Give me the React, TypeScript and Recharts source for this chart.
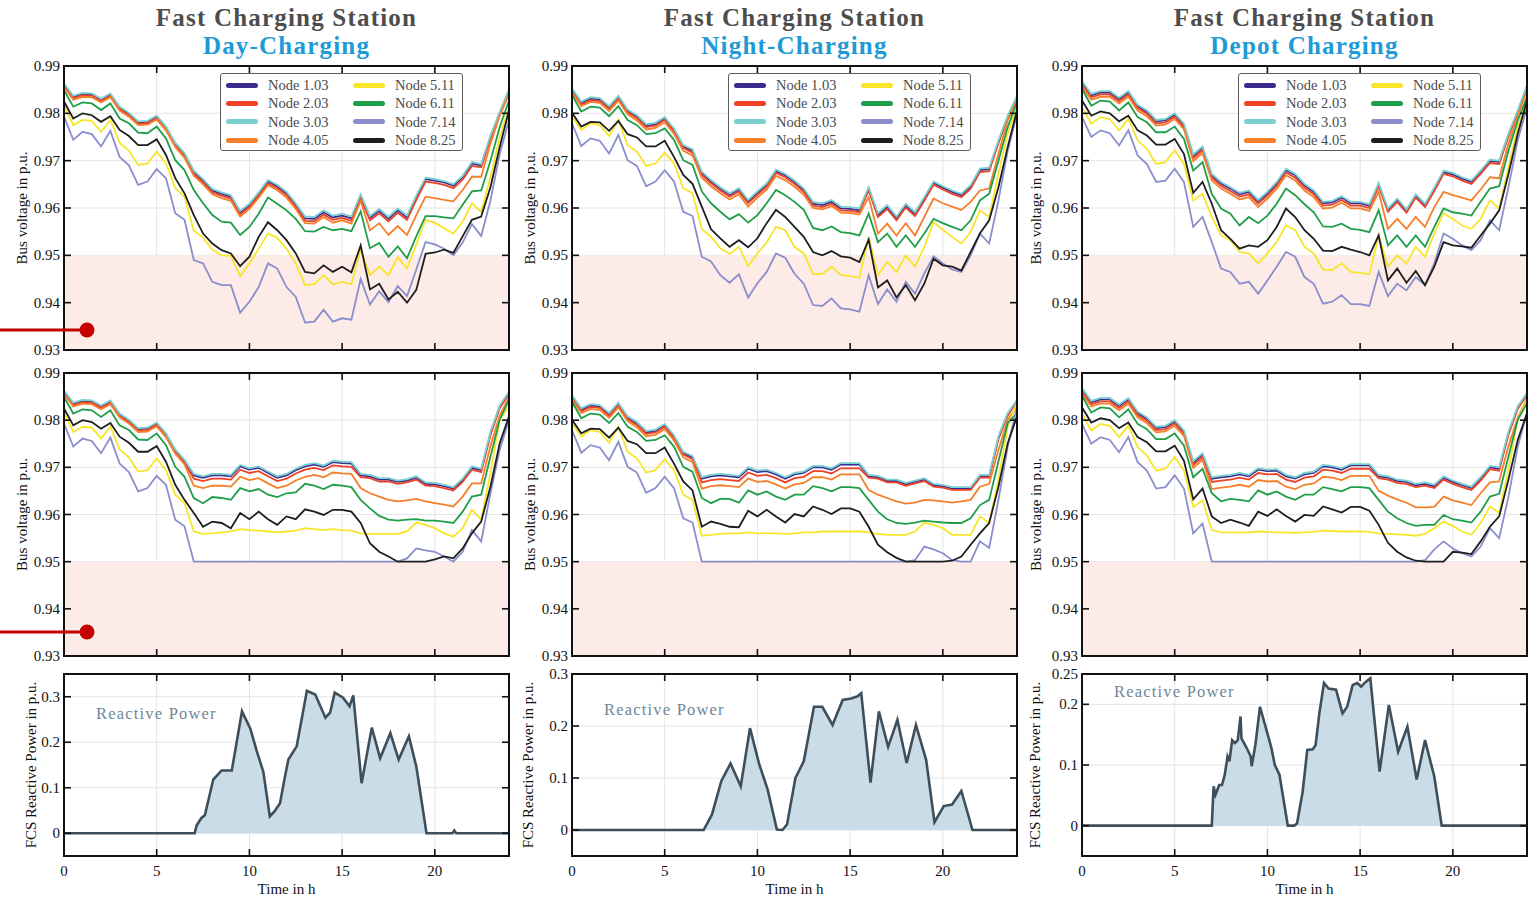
import {
  LineChart, Line, AreaChart, Area, XAxis, YAxis, CartesianGrid, ReferenceArea, Legend,
} from 'recharts';

// time axis, half-hour steps
const HOURS = [
  0, 0.5, 1, 1.5, 2, 2.5, 3, 3.5, 4, 4.5, 5, 5.5,
  6, 6.5, 7, 7.5, 8, 8.5, 9, 9.5, 10, 10.5, 11, 11.5,
  12, 12.5, 13, 13.5, 14, 14.5, 15, 15.5, 16, 16.5, 17, 17.5,
  18, 18.5, 19, 19.5, 20, 20.5, 21, 21.5, 22, 22.5, 23, 23.5, 24,
];

// ---------- Day-Charging, without Q control ----------
const dayTop103 = [
  0.9860, 0.9835, 0.9841, 0.9840, 0.9829, 0.9840, 0.9812, 0.9799, 0.9781, 0.9782, 0.9793, 0.9770,
  0.9736, 0.9714, 0.9676, 0.9658, 0.9637, 0.9630, 0.9624, 0.9591, 0.9606, 0.9630, 0.9656, 0.9646,
  0.9631, 0.9607, 0.9578, 0.9577, 0.9591, 0.9580, 0.9584, 0.9578, 0.9625, 0.9579, 0.9594, 0.9577,
  0.9595, 0.9580, 0.9622, 0.9661, 0.9658, 0.9654, 0.9647, 0.9665, 0.9694, 0.9690, 0.9750, 0.9800, 0.9848,
];
const dayTop203 = [
  0.9857, 0.9832, 0.9838, 0.9837, 0.9826, 0.9837, 0.9809, 0.9796, 0.9778, 0.9779, 0.9790, 0.9767,
  0.9733, 0.9710, 0.9672, 0.9654, 0.9633, 0.9626, 0.9620, 0.9587, 0.9602, 0.9626, 0.9652, 0.9642,
  0.9627, 0.9603, 0.9573, 0.9572, 0.9586, 0.9575, 0.9579, 0.9573, 0.9621, 0.9574, 0.9589, 0.9572,
  0.9590, 0.9575, 0.9617, 0.9656, 0.9653, 0.9649, 0.9642, 0.9660, 0.9689, 0.9686, 0.9746, 0.9797, 0.9845,
];
const dayTop303 = [
  0.9863, 0.9837, 0.9843, 0.9842, 0.9831, 0.9842, 0.9814, 0.9801, 0.9783, 0.9784, 0.9795, 0.9772,
  0.9738, 0.9716, 0.9679, 0.9661, 0.9640, 0.9633, 0.9627, 0.9594, 0.9609, 0.9633, 0.9659, 0.9649,
  0.9634, 0.9610, 0.9582, 0.9581, 0.9595, 0.9584, 0.9588, 0.9582, 0.9629, 0.9583, 0.9598, 0.9581,
  0.9599, 0.9584, 0.9626, 0.9664, 0.9661, 0.9657, 0.9650, 0.9668, 0.9697, 0.9693, 0.9753, 0.9803, 0.9851,
];
const dayTop405 = [
  0.9855, 0.9829, 0.9835, 0.9834, 0.9823, 0.9834, 0.9806, 0.9793, 0.9775, 0.9776, 0.9787, 0.9764,
  0.9729, 0.9706, 0.9668, 0.9650, 0.9629, 0.9621, 0.9615, 0.9582, 0.9598, 0.9622, 0.9648, 0.9638,
  0.9622, 0.9598, 0.9568, 0.9567, 0.9581, 0.9569, 0.9574, 0.9567, 0.9615, 0.9553, 0.9568, 0.9543,
  0.9562, 0.9543, 0.9585, 0.9624, 0.9621, 0.9617, 0.9614, 0.9638, 0.9666, 0.9666, 0.9736, 0.9795, 0.9841,
];
const dayTop511 = [
  0.9817, 0.9775, 0.9786, 0.9784, 0.9761, 0.9786, 0.9738, 0.9721, 0.9691, 0.9694, 0.9719, 0.9694,
  0.9642, 0.9624, 0.9552, 0.9537, 0.9512, 0.9500, 0.9499, 0.9456, 0.9483, 0.9514, 0.9546, 0.9537,
  0.9514, 0.9483, 0.9437, 0.9439, 0.9458, 0.9439, 0.9444, 0.9439, 0.9512, 0.9458, 0.9476, 0.9458,
  0.9496, 0.9472, 0.9523, 0.9575, 0.9569, 0.9557, 0.9546, 0.9571, 0.9610, 0.9592, 0.9665, 0.9750, 0.9813,
];
const dayTop611 = [
  0.9849, 0.9814, 0.9823, 0.9821, 0.9807, 0.9821, 0.9789, 0.9779, 0.9759, 0.9758, 0.9772, 0.9747,
  0.9701, 0.9680, 0.9638, 0.9610, 0.9585, 0.9571, 0.9569, 0.9543, 0.9560, 0.9588, 0.9622, 0.9609,
  0.9595, 0.9577, 0.9551, 0.9550, 0.9560, 0.9553, 0.9556, 0.9551, 0.9593, 0.9515, 0.9526, 0.9497,
  0.9519, 0.9494, 0.9540, 0.9583, 0.9583, 0.9580, 0.9578, 0.9607, 0.9635, 0.9637, 0.9700, 0.9771, 0.9827,
];
const dayTop714 = [
  0.9793, 0.9744, 0.9761, 0.9756, 0.9730, 0.9763, 0.9708, 0.9690, 0.9649, 0.9656, 0.9682, 0.9663,
  0.9589, 0.9575, 0.9490, 0.9483, 0.9444, 0.9437, 0.9437, 0.9379, 0.9402, 0.9433, 0.9483, 0.9472,
  0.9433, 0.9412, 0.9358, 0.9360, 0.9385, 0.9360, 0.9367, 0.9364, 0.9450, 0.9396, 0.9424, 0.9401,
  0.9435, 0.9414, 0.9470, 0.9528, 0.9523, 0.9514, 0.9500, 0.9527, 0.9566, 0.9541, 0.9616, 0.9714, 0.9785,
];
const dayTop825 = [
  0.9825, 0.9789, 0.9800, 0.9796, 0.9782, 0.9794, 0.9765, 0.9752, 0.9733, 0.9733, 0.9745, 0.9712,
  0.9663, 0.9631, 0.9585, 0.9546, 0.9525, 0.9511, 0.9504, 0.9477, 0.9497, 0.9539, 0.9570, 0.9553,
  0.9532, 0.9504, 0.9465, 0.9462, 0.9479, 0.9465, 0.9476, 0.9464, 0.9521, 0.9428, 0.9440, 0.9407,
  0.9423, 0.9400, 0.9427, 0.9503, 0.9506, 0.9512, 0.9505, 0.9540, 0.9575, 0.9582, 0.9644, 0.9729, 0.9806,
];

// ---------- Day-Charging, with Q control ----------
const dayBot103 = [
  0.9860, 0.9835, 0.9841, 0.9840, 0.9829, 0.9840, 0.9812, 0.9799, 0.9781, 0.9782, 0.9793, 0.9770,
  0.9736, 0.9714, 0.9683, 0.9678, 0.9683, 0.9683, 0.9681, 0.9702, 0.9695, 0.9699, 0.9688, 0.9678,
  0.9683, 0.9694, 0.9702, 0.9706, 0.9701, 0.9711, 0.9709, 0.9708, 0.9683, 0.9681, 0.9674, 0.9674,
  0.9669, 0.9672, 0.9678, 0.9665, 0.9664, 0.9660, 0.9655, 0.9673, 0.9699, 0.9694, 0.9772, 0.9829, 0.9858,
];
const dayBot203 = [
  0.9857, 0.9832, 0.9838, 0.9837, 0.9826, 0.9837, 0.9809, 0.9796, 0.9778, 0.9779, 0.9790, 0.9767,
  0.9733, 0.9710, 0.9676, 0.9671, 0.9676, 0.9676, 0.9674, 0.9695, 0.9688, 0.9692, 0.9681, 0.9671,
  0.9676, 0.9687, 0.9695, 0.9699, 0.9694, 0.9704, 0.9702, 0.9701, 0.9679, 0.9677, 0.9670, 0.9670,
  0.9665, 0.9668, 0.9674, 0.9661, 0.9660, 0.9656, 0.9651, 0.9669, 0.9695, 0.9690, 0.9768, 0.9826, 0.9855,
];
const dayBot303 = [
  0.9863, 0.9837, 0.9843, 0.9842, 0.9831, 0.9842, 0.9814, 0.9801, 0.9783, 0.9784, 0.9795, 0.9772,
  0.9738, 0.9716, 0.9686, 0.9681, 0.9686, 0.9686, 0.9684, 0.9705, 0.9698, 0.9702, 0.9691, 0.9681,
  0.9686, 0.9697, 0.9705, 0.9709, 0.9704, 0.9714, 0.9712, 0.9711, 0.9686, 0.9684, 0.9677, 0.9677,
  0.9672, 0.9675, 0.9681, 0.9668, 0.9667, 0.9663, 0.9658, 0.9676, 0.9702, 0.9697, 0.9775, 0.9831, 0.9860,
];
const dayBot405 = [
  0.9855, 0.9829, 0.9835, 0.9834, 0.9823, 0.9834, 0.9806, 0.9793, 0.9775, 0.9776, 0.9787, 0.9764,
  0.9729, 0.9706, 0.9661, 0.9656, 0.9661, 0.9661, 0.9659, 0.9680, 0.9673, 0.9677, 0.9666, 0.9656,
  0.9661, 0.9672, 0.9680, 0.9684, 0.9679, 0.9689, 0.9687, 0.9686, 0.9656, 0.9645, 0.9638, 0.9631,
  0.9628, 0.9630, 0.9633, 0.9628, 0.9624, 0.9621, 0.9617, 0.9638, 0.9666, 0.9666, 0.9745, 0.9810, 0.9848,
];
const dayBot511 = [
  0.9817, 0.9775, 0.9786, 0.9784, 0.9761, 0.9786, 0.9738, 0.9721, 0.9691, 0.9694, 0.9719, 0.9694,
  0.9642, 0.9624, 0.9564, 0.9559, 0.9560, 0.9562, 0.9564, 0.9569, 0.9567, 0.9566, 0.9564, 0.9562,
  0.9564, 0.9566, 0.9571, 0.9569, 0.9567, 0.9569, 0.9567, 0.9566, 0.9560, 0.9559, 0.9559, 0.9559,
  0.9559, 0.9564, 0.9583, 0.9578, 0.9571, 0.9560, 0.9553, 0.9571, 0.9610, 0.9589, 0.9688, 0.9801, 0.9829,
];
const dayBot611 = [
  0.9849, 0.9814, 0.9823, 0.9821, 0.9807, 0.9821, 0.9789, 0.9779, 0.9759, 0.9758, 0.9772, 0.9747,
  0.9701, 0.9680, 0.9635, 0.9624, 0.9637, 0.9635, 0.9631, 0.9656, 0.9649, 0.9654, 0.9642, 0.9637,
  0.9645, 0.9647, 0.9665, 0.9661, 0.9654, 0.9663, 0.9661, 0.9658, 0.9631, 0.9613, 0.9597, 0.9589,
  0.9587, 0.9589, 0.9590, 0.9587, 0.9587, 0.9585, 0.9582, 0.9606, 0.9638, 0.9642, 0.9723, 0.9801, 0.9843,
];
const dayBot714 = [
  0.9793, 0.9744, 0.9761, 0.9756, 0.9730, 0.9763, 0.9708, 0.9690, 0.9649, 0.9656, 0.9682, 0.9663,
  0.9589, 0.9575, 0.9500, 0.9500, 0.9500, 0.9500, 0.9500, 0.9500, 0.9500, 0.9500, 0.9500, 0.9500,
  0.9500, 0.9500, 0.9500, 0.9500, 0.9500, 0.9500, 0.9500, 0.9500, 0.9500, 0.9500, 0.9500, 0.9500,
  0.9500, 0.9507, 0.9528, 0.9524, 0.9521, 0.9511, 0.9500, 0.9521, 0.9567, 0.9543, 0.9645, 0.9737, 0.9801,
];
const dayBot825 = [
  0.9825, 0.9789, 0.9800, 0.9796, 0.9782, 0.9794, 0.9765, 0.9752, 0.9733, 0.9733, 0.9745, 0.9712,
  0.9663, 0.9631, 0.9603, 0.9574, 0.9585, 0.9582, 0.9571, 0.9603, 0.9590, 0.9606, 0.9590, 0.9578,
  0.9596, 0.9590, 0.9611, 0.9606, 0.9599, 0.9610, 0.9610, 0.9606, 0.9582, 0.9539, 0.9521, 0.9511,
  0.9500, 0.9500, 0.9500, 0.9500, 0.9505, 0.9511, 0.9507, 0.9528, 0.9560, 0.9585, 0.9659, 0.9751, 0.9808,
];

// ---------- Night-Charging, without Q control ----------
const nightTop103 = [
  0.9850, 0.9822, 0.9831, 0.9829, 0.9812, 0.9834, 0.9805, 0.9793, 0.9774, 0.9777, 0.9789, 0.9765,
  0.9730, 0.9721, 0.9674, 0.9656, 0.9641, 0.9628, 0.9639, 0.9614, 0.9632, 0.9649, 0.9678, 0.9669,
  0.9655, 0.9638, 0.9609, 0.9606, 0.9613, 0.9599, 0.9598, 0.9595, 0.9641, 0.9585, 0.9602, 0.9578,
  0.9605, 0.9587, 0.9619, 0.9653, 0.9643, 0.9634, 0.9627, 0.9645, 0.9680, 0.9682, 0.9740, 0.9792, 0.9835,
];
const nightTop203 = [
  0.9847, 0.9819, 0.9828, 0.9826, 0.9809, 0.9831, 0.9802, 0.9790, 0.9771, 0.9774, 0.9786, 0.9762,
  0.9727, 0.9717, 0.9670, 0.9652, 0.9637, 0.9624, 0.9635, 0.9610, 0.9628, 0.9645, 0.9674, 0.9665,
  0.9651, 0.9634, 0.9605, 0.9602, 0.9609, 0.9595, 0.9594, 0.9591, 0.9637, 0.9581, 0.9598, 0.9574,
  0.9601, 0.9583, 0.9615, 0.9649, 0.9639, 0.9630, 0.9623, 0.9641, 0.9676, 0.9678, 0.9737, 0.9790, 0.9833,
];
const nightTop303 = [
  0.9853, 0.9825, 0.9834, 0.9832, 0.9815, 0.9837, 0.9808, 0.9796, 0.9777, 0.9780, 0.9792, 0.9768,
  0.9733, 0.9724, 0.9677, 0.9659, 0.9644, 0.9631, 0.9642, 0.9617, 0.9635, 0.9652, 0.9681, 0.9672,
  0.9658, 0.9641, 0.9613, 0.9610, 0.9617, 0.9603, 0.9602, 0.9599, 0.9644, 0.9589, 0.9606, 0.9582,
  0.9609, 0.9591, 0.9623, 0.9656, 0.9646, 0.9637, 0.9630, 0.9648, 0.9683, 0.9685, 0.9743, 0.9795, 0.9837,
];
const nightTop405 = [
  0.9844, 0.9815, 0.9824, 0.9822, 0.9805, 0.9827, 0.9798, 0.9785, 0.9766, 0.9769, 0.9781, 0.9757,
  0.9721, 0.9711, 0.9664, 0.9646, 0.9631, 0.9618, 0.9629, 0.9603, 0.9622, 0.9639, 0.9668, 0.9659,
  0.9645, 0.9628, 0.9600, 0.9597, 0.9604, 0.9590, 0.9589, 0.9586, 0.9623, 0.9546, 0.9567, 0.9542,
  0.9568, 0.9542, 0.9581, 0.9620, 0.9610, 0.9603, 0.9596, 0.9613, 0.9637, 0.9641, 0.9714, 0.9785, 0.9827,
];
const nightTop511 = [
  0.9794, 0.9765, 0.9779, 0.9775, 0.9752, 0.9786, 0.9733, 0.9719, 0.9689, 0.9694, 0.9717, 0.9694,
  0.9642, 0.9631, 0.9555, 0.9539, 0.9515, 0.9503, 0.9518, 0.9477, 0.9504, 0.9527, 0.9560, 0.9553,
  0.9518, 0.9504, 0.9461, 0.9461, 0.9476, 0.9458, 0.9456, 0.9453, 0.9539, 0.9458, 0.9486, 0.9465,
  0.9500, 0.9476, 0.9518, 0.9570, 0.9554, 0.9539, 0.9525, 0.9549, 0.9595, 0.9581, 0.9672, 0.9757, 0.9813,
];
const nightTop611 = [
  0.9839, 0.9804, 0.9814, 0.9812, 0.9794, 0.9815, 0.9786, 0.9775, 0.9756, 0.9758, 0.9768, 0.9744,
  0.9701, 0.9691, 0.9635, 0.9610, 0.9592, 0.9576, 0.9587, 0.9569, 0.9585, 0.9610, 0.9638, 0.9627,
  0.9613, 0.9596, 0.9558, 0.9553, 0.9561, 0.9549, 0.9547, 0.9542, 0.9588, 0.9528, 0.9546, 0.9518,
  0.9542, 0.9518, 0.9546, 0.9577, 0.9568, 0.9560, 0.9553, 0.9574, 0.9616, 0.9630, 0.9700, 0.9771, 0.9823,
];
const nightTop714 = [
  0.9779, 0.9731, 0.9747, 0.9742, 0.9715, 0.9754, 0.9701, 0.9689, 0.9646, 0.9656, 0.9680, 0.9656,
  0.9592, 0.9583, 0.9497, 0.9487, 0.9458, 0.9442, 0.9460, 0.9411, 0.9441, 0.9465, 0.9504, 0.9495,
  0.9461, 0.9440, 0.9395, 0.9393, 0.9409, 0.9388, 0.9386, 0.9381, 0.9458, 0.9397, 0.9428, 0.9402,
  0.9444, 0.9419, 0.9462, 0.9498, 0.9483, 0.9470, 0.9465, 0.9500, 0.9546, 0.9525, 0.9616, 0.9721, 0.9799,
];
const nightTop825 = [
  0.9801, 0.9772, 0.9782, 0.9781, 0.9763, 0.9784, 0.9756, 0.9749, 0.9730, 0.9730, 0.9742, 0.9708,
  0.9670, 0.9651, 0.9603, 0.9555, 0.9536, 0.9518, 0.9532, 0.9517, 0.9536, 0.9568, 0.9596, 0.9581,
  0.9560, 0.9539, 0.9507, 0.9500, 0.9509, 0.9498, 0.9495, 0.9486, 0.9533, 0.9432, 0.9447, 0.9411,
  0.9437, 0.9405, 0.9440, 0.9493, 0.9479, 0.9476, 0.9468, 0.9507, 0.9546, 0.9574, 0.9644, 0.9729, 0.9806,
];

// ---------- Night-Charging, with Q control ----------
const nightBot103 = [
  0.9850, 0.9822, 0.9831, 0.9829, 0.9812, 0.9834, 0.9805, 0.9793, 0.9774, 0.9777, 0.9789, 0.9765,
  0.9730, 0.9721, 0.9676, 0.9681, 0.9683, 0.9681, 0.9679, 0.9697, 0.9690, 0.9692, 0.9685, 0.9676,
  0.9685, 0.9688, 0.9700, 0.9700, 0.9695, 0.9706, 0.9706, 0.9706, 0.9681, 0.9679, 0.9671, 0.9671,
  0.9664, 0.9669, 0.9674, 0.9662, 0.9660, 0.9655, 0.9655, 0.9655, 0.9681, 0.9681, 0.9763, 0.9813, 0.9841,
];
const nightBot203 = [
  0.9847, 0.9819, 0.9828, 0.9826, 0.9809, 0.9831, 0.9802, 0.9790, 0.9771, 0.9774, 0.9786, 0.9762,
  0.9727, 0.9717, 0.9668, 0.9673, 0.9675, 0.9673, 0.9671, 0.9689, 0.9682, 0.9684, 0.9677, 0.9668,
  0.9677, 0.9680, 0.9692, 0.9692, 0.9687, 0.9698, 0.9698, 0.9698, 0.9678, 0.9676, 0.9668, 0.9668,
  0.9661, 0.9666, 0.9671, 0.9659, 0.9657, 0.9652, 0.9652, 0.9652, 0.9678, 0.9678, 0.9760, 0.9810, 0.9839,
];
const nightBot303 = [
  0.9853, 0.9825, 0.9834, 0.9832, 0.9815, 0.9837, 0.9808, 0.9796, 0.9777, 0.9780, 0.9792, 0.9768,
  0.9733, 0.9724, 0.9679, 0.9684, 0.9686, 0.9684, 0.9682, 0.9700, 0.9693, 0.9695, 0.9688, 0.9679,
  0.9688, 0.9691, 0.9703, 0.9703, 0.9698, 0.9709, 0.9709, 0.9709, 0.9684, 0.9682, 0.9674, 0.9674,
  0.9667, 0.9672, 0.9677, 0.9665, 0.9663, 0.9658, 0.9658, 0.9658, 0.9684, 0.9684, 0.9766, 0.9815, 0.9843,
];
const nightBot405 = [
  0.9844, 0.9815, 0.9824, 0.9822, 0.9805, 0.9827, 0.9798, 0.9785, 0.9766, 0.9769, 0.9781, 0.9757,
  0.9721, 0.9711, 0.9655, 0.9660, 0.9662, 0.9660, 0.9658, 0.9676, 0.9669, 0.9671, 0.9664, 0.9655,
  0.9664, 0.9667, 0.9679, 0.9679, 0.9674, 0.9685, 0.9685, 0.9685, 0.9652, 0.9642, 0.9635, 0.9628,
  0.9623, 0.9625, 0.9631, 0.9630, 0.9628, 0.9625, 0.9628, 0.9631, 0.9659, 0.9665, 0.9737, 0.9801, 0.9829,
];
const nightBot511 = [
  0.9794, 0.9765, 0.9779, 0.9775, 0.9752, 0.9786, 0.9733, 0.9719, 0.9689, 0.9694, 0.9717, 0.9694,
  0.9642, 0.9631, 0.9555, 0.9557, 0.9559, 0.9560, 0.9560, 0.9562, 0.9560, 0.9560, 0.9560, 0.9559,
  0.9560, 0.9562, 0.9562, 0.9564, 0.9564, 0.9564, 0.9564, 0.9564, 0.9562, 0.9559, 0.9557, 0.9557,
  0.9557, 0.9564, 0.9583, 0.9578, 0.9571, 0.9557, 0.9557, 0.9557, 0.9596, 0.9582, 0.9674, 0.9787, 0.9836,
];
const nightBot611 = [
  0.9839, 0.9804, 0.9814, 0.9812, 0.9794, 0.9815, 0.9786, 0.9775, 0.9756, 0.9758, 0.9768, 0.9744,
  0.9701, 0.9691, 0.9635, 0.9624, 0.9633, 0.9633, 0.9625, 0.9651, 0.9642, 0.9649, 0.9638, 0.9631,
  0.9642, 0.9642, 0.9660, 0.9656, 0.9649, 0.9658, 0.9658, 0.9656, 0.9631, 0.9606, 0.9590, 0.9582,
  0.9580, 0.9583, 0.9587, 0.9585, 0.9583, 0.9582, 0.9582, 0.9592, 0.9620, 0.9631, 0.9713, 0.9794, 0.9815,
];
const nightBot714 = [
  0.9779, 0.9731, 0.9747, 0.9742, 0.9715, 0.9754, 0.9701, 0.9689, 0.9646, 0.9656, 0.9680, 0.9656,
  0.9592, 0.9583, 0.9500, 0.9500, 0.9500, 0.9500, 0.9500, 0.9500, 0.9500, 0.9500, 0.9500, 0.9500,
  0.9500, 0.9500, 0.9500, 0.9500, 0.9500, 0.9500, 0.9500, 0.9500, 0.9500, 0.9500, 0.9500, 0.9500,
  0.9500, 0.9503, 0.9532, 0.9526, 0.9518, 0.9503, 0.9500, 0.9500, 0.9543, 0.9529, 0.9631, 0.9744, 0.9829,
];
const nightBot825 = [
  0.9801, 0.9772, 0.9782, 0.9781, 0.9763, 0.9784, 0.9756, 0.9749, 0.9730, 0.9730, 0.9742, 0.9708,
  0.9670, 0.9651, 0.9574, 0.9585, 0.9580, 0.9574, 0.9573, 0.9608, 0.9596, 0.9610, 0.9596, 0.9583,
  0.9601, 0.9596, 0.9617, 0.9610, 0.9601, 0.9613, 0.9613, 0.9606, 0.9574, 0.9536, 0.9520, 0.9508,
  0.9500, 0.9500, 0.9500, 0.9500, 0.9500, 0.9502, 0.9511, 0.9536, 0.9560, 0.9582, 0.9659, 0.9751, 0.9808,
];

// ---------- Depot Charging, without Q control ----------
const depotTop103 = [
  0.9865, 0.9838, 0.9844, 0.9844, 0.9830, 0.9844, 0.9815, 0.9803, 0.9783, 0.9785, 0.9797, 0.9775,
  0.9710, 0.9727, 0.9669, 0.9652, 0.9641, 0.9629, 0.9634, 0.9614, 0.9631, 0.9652, 0.9680, 0.9669,
  0.9648, 0.9634, 0.9610, 0.9612, 0.9622, 0.9610, 0.9610, 0.9605, 0.9650, 0.9596, 0.9617, 0.9594,
  0.9626, 0.9606, 0.9640, 0.9676, 0.9671, 0.9662, 0.9655, 0.9676, 0.9699, 0.9697, 0.9754, 0.9804, 0.9857,
];
const depotTop203 = [
  0.9861, 0.9834, 0.9840, 0.9840, 0.9826, 0.9840, 0.9811, 0.9799, 0.9779, 0.9781, 0.9793, 0.9771,
  0.9705, 0.9722, 0.9664, 0.9647, 0.9636, 0.9624, 0.9629, 0.9609, 0.9626, 0.9647, 0.9675, 0.9664,
  0.9643, 0.9629, 0.9605, 0.9607, 0.9617, 0.9605, 0.9605, 0.9600, 0.9646, 0.9592, 0.9613, 0.9590,
  0.9622, 0.9602, 0.9636, 0.9672, 0.9667, 0.9658, 0.9651, 0.9672, 0.9695, 0.9693, 0.9751, 0.9801, 0.9854,
];
const depotTop303 = [
  0.9868, 0.9841, 0.9847, 0.9847, 0.9833, 0.9847, 0.9818, 0.9806, 0.9786, 0.9788, 0.9800, 0.9778,
  0.9713, 0.9730, 0.9672, 0.9655, 0.9644, 0.9632, 0.9637, 0.9617, 0.9634, 0.9655, 0.9683, 0.9672,
  0.9651, 0.9637, 0.9613, 0.9615, 0.9625, 0.9613, 0.9613, 0.9608, 0.9653, 0.9599, 0.9620, 0.9597,
  0.9629, 0.9609, 0.9643, 0.9679, 0.9674, 0.9665, 0.9658, 0.9679, 0.9702, 0.9700, 0.9757, 0.9806, 0.9859,
];
const depotTop405 = [
  0.9856, 0.9829, 0.9835, 0.9835, 0.9821, 0.9835, 0.9806, 0.9794, 0.9774, 0.9776, 0.9788, 0.9766,
  0.9699, 0.9716, 0.9658, 0.9641, 0.9630, 0.9618, 0.9623, 0.9602, 0.9620, 0.9641, 0.9669, 0.9658,
  0.9637, 0.9623, 0.9599, 0.9601, 0.9611, 0.9599, 0.9599, 0.9594, 0.9634, 0.9556, 0.9577, 0.9556,
  0.9581, 0.9560, 0.9602, 0.9634, 0.9627, 0.9622, 0.9616, 0.9639, 0.9665, 0.9663, 0.9736, 0.9795, 0.9848,
];
const depotTop511 = [
  0.9813, 0.9778, 0.9792, 0.9788, 0.9764, 0.9788, 0.9743, 0.9725, 0.9693, 0.9697, 0.9722, 0.9693,
  0.9616, 0.9630, 0.9581, 0.9542, 0.9532, 0.9507, 0.9504, 0.9483, 0.9504, 0.9528, 0.9563, 0.9553,
  0.9518, 0.9504, 0.9470, 0.9469, 0.9483, 0.9465, 0.9463, 0.9460, 0.9542, 0.9476, 0.9500, 0.9483,
  0.9518, 0.9497, 0.9546, 0.9589, 0.9577, 0.9563, 0.9556, 0.9577, 0.9616, 0.9599, 0.9686, 0.9771, 0.9827,
];
const depotTop611 = [
  0.9852, 0.9816, 0.9827, 0.9825, 0.9806, 0.9823, 0.9792, 0.9781, 0.9760, 0.9760, 0.9772, 0.9746,
  0.9679, 0.9697, 0.9630, 0.9599, 0.9588, 0.9563, 0.9581, 0.9568, 0.9584, 0.9609, 0.9641, 0.9627,
  0.9608, 0.9591, 0.9561, 0.9560, 0.9567, 0.9556, 0.9554, 0.9549, 0.9595, 0.9521, 0.9542, 0.9518,
  0.9542, 0.9518, 0.9560, 0.9599, 0.9591, 0.9588, 0.9584, 0.9613, 0.9641, 0.9646, 0.9721, 0.9785, 0.9834,
];
const depotTop714 = [
  0.9792, 0.9750, 0.9764, 0.9758, 0.9732, 0.9764, 0.9711, 0.9693, 0.9655, 0.9658, 0.9683, 0.9655,
  0.9560, 0.9581, 0.9528, 0.9472, 0.9465, 0.9440, 0.9444, 0.9419, 0.9447, 0.9476, 0.9507, 0.9497,
  0.9454, 0.9440, 0.9398, 0.9402, 0.9416, 0.9397, 0.9397, 0.9393, 0.9465, 0.9414, 0.9440, 0.9426,
  0.9454, 0.9437, 0.9483, 0.9546, 0.9535, 0.9521, 0.9511, 0.9532, 0.9574, 0.9553, 0.9644, 0.9743, 0.9813,
];
const depotTop825 = [
  0.9827, 0.9795, 0.9804, 0.9800, 0.9783, 0.9795, 0.9764, 0.9753, 0.9734, 0.9734, 0.9746, 0.9714,
  0.9632, 0.9655, 0.9609, 0.9553, 0.9535, 0.9514, 0.9521, 0.9518, 0.9532, 0.9560, 0.9599, 0.9581,
  0.9553, 0.9535, 0.9510, 0.9509, 0.9518, 0.9512, 0.9507, 0.9500, 0.9542, 0.9447, 0.9472, 0.9442,
  0.9467, 0.9437, 0.9476, 0.9528, 0.9521, 0.9519, 0.9516, 0.9542, 0.9567, 0.9595, 0.9672, 0.9757, 0.9827,
];

// ---------- Depot Charging, with Q control ----------
const depotBot103 = [
  0.9865, 0.9838, 0.9844, 0.9844, 0.9830, 0.9844, 0.9815, 0.9803, 0.9783, 0.9785, 0.9797, 0.9775,
  0.9710, 0.9727, 0.9676, 0.9679, 0.9681, 0.9685, 0.9681, 0.9695, 0.9692, 0.9693, 0.9681, 0.9676,
  0.9685, 0.9688, 0.9702, 0.9700, 0.9695, 0.9704, 0.9704, 0.9704, 0.9681, 0.9678, 0.9671, 0.9669,
  0.9662, 0.9665, 0.9660, 0.9678, 0.9669, 0.9662, 0.9656, 0.9676, 0.9700, 0.9697, 0.9773, 0.9827, 0.9856,
];
const depotBot203 = [
  0.9861, 0.9834, 0.9840, 0.9840, 0.9826, 0.9840, 0.9811, 0.9799, 0.9779, 0.9781, 0.9793, 0.9771,
  0.9705, 0.9722, 0.9669, 0.9672, 0.9674, 0.9678, 0.9674, 0.9688, 0.9685, 0.9686, 0.9674, 0.9669,
  0.9678, 0.9681, 0.9695, 0.9693, 0.9688, 0.9697, 0.9697, 0.9697, 0.9677, 0.9674, 0.9667, 0.9665,
  0.9658, 0.9661, 0.9656, 0.9674, 0.9665, 0.9658, 0.9652, 0.9672, 0.9696, 0.9693, 0.9769, 0.9824, 0.9853,
];
const depotBot303 = [
  0.9868, 0.9841, 0.9847, 0.9847, 0.9833, 0.9847, 0.9818, 0.9806, 0.9786, 0.9788, 0.9800, 0.9778,
  0.9713, 0.9730, 0.9679, 0.9682, 0.9684, 0.9688, 0.9684, 0.9698, 0.9695, 0.9696, 0.9684, 0.9679,
  0.9688, 0.9691, 0.9705, 0.9703, 0.9698, 0.9707, 0.9707, 0.9707, 0.9684, 0.9681, 0.9674, 0.9672,
  0.9665, 0.9668, 0.9663, 0.9681, 0.9672, 0.9665, 0.9659, 0.9679, 0.9703, 0.9700, 0.9776, 0.9829, 0.9858,
];
const depotBot405 = [
  0.9856, 0.9829, 0.9835, 0.9835, 0.9821, 0.9835, 0.9806, 0.9794, 0.9774, 0.9776, 0.9788, 0.9766,
  0.9699, 0.9716, 0.9654, 0.9657, 0.9659, 0.9663, 0.9659, 0.9673, 0.9670, 0.9671, 0.9659, 0.9654,
  0.9663, 0.9666, 0.9680, 0.9678, 0.9673, 0.9682, 0.9682, 0.9682, 0.9650, 0.9640, 0.9632, 0.9625,
  0.9615, 0.9615, 0.9616, 0.9638, 0.9630, 0.9625, 0.9620, 0.9645, 0.9668, 0.9670, 0.9745, 0.9805, 0.9845,
];
const depotBot511 = [
  0.9813, 0.9778, 0.9792, 0.9788, 0.9764, 0.9788, 0.9743, 0.9725, 0.9693, 0.9697, 0.9722, 0.9693,
  0.9616, 0.9630, 0.9567, 0.9562, 0.9562, 0.9562, 0.9562, 0.9564, 0.9563, 0.9562, 0.9562, 0.9561,
  0.9562, 0.9563, 0.9566, 0.9565, 0.9564, 0.9564, 0.9564, 0.9563, 0.9560, 0.9559, 0.9558, 0.9557,
  0.9555, 0.9559, 0.9571, 0.9585, 0.9576, 0.9564, 0.9557, 0.9582, 0.9617, 0.9603, 0.9695, 0.9801, 0.9843,
];
const depotBot611 = [
  0.9852, 0.9816, 0.9827, 0.9825, 0.9806, 0.9823, 0.9792, 0.9781, 0.9760, 0.9760, 0.9772, 0.9746,
  0.9679, 0.9697, 0.9645, 0.9628, 0.9633, 0.9631, 0.9628, 0.9651, 0.9642, 0.9649, 0.9638, 0.9631,
  0.9642, 0.9642, 0.9658, 0.9654, 0.9649, 0.9658, 0.9658, 0.9656, 0.9631, 0.9606, 0.9592, 0.9582,
  0.9576, 0.9578, 0.9578, 0.9599, 0.9590, 0.9587, 0.9583, 0.9606, 0.9638, 0.9644, 0.9723, 0.9801, 0.9836,
];
const depotBot714 = [
  0.9792, 0.9750, 0.9764, 0.9758, 0.9732, 0.9764, 0.9711, 0.9693, 0.9655, 0.9658, 0.9683, 0.9655,
  0.9560, 0.9581, 0.9500, 0.9500, 0.9500, 0.9500, 0.9500, 0.9500, 0.9500, 0.9500, 0.9500, 0.9500,
  0.9500, 0.9500, 0.9500, 0.9500, 0.9500, 0.9500, 0.9500, 0.9500, 0.9500, 0.9500, 0.9500, 0.9500,
  0.9500, 0.9503, 0.9526, 0.9543, 0.9528, 0.9518, 0.9511, 0.9532, 0.9571, 0.9550, 0.9638, 0.9744, 0.9815,
];
const depotBot825 = [
  0.9827, 0.9795, 0.9804, 0.9800, 0.9783, 0.9795, 0.9764, 0.9753, 0.9734, 0.9734, 0.9746, 0.9714,
  0.9632, 0.9655, 0.9596, 0.9582, 0.9589, 0.9583, 0.9576, 0.9606, 0.9597, 0.9611, 0.9597, 0.9585,
  0.9599, 0.9597, 0.9617, 0.9611, 0.9604, 0.9616, 0.9616, 0.9608, 0.9578, 0.9540, 0.9521, 0.9509,
  0.9502, 0.9500, 0.9500, 0.9500, 0.9521, 0.9519, 0.9516, 0.9543, 0.9574, 0.9596, 0.9674, 0.9758, 0.9815,
];

// ---------- FCS reactive power ----------
const dayQTime = [
  0, 7.05, 7.15, 7.4, 7.6, 8.05, 8.5, 9.05, 9.6, 10.05, 10.4, 10.75, 11.1, 11.35, 11.65, 11.9, 12.1,
  12.55, 13.1, 13.55, 14.1, 14.35, 14.6, 15.05, 15.4, 15.6, 16.05, 16.6, 17.05, 17.6, 18.05, 18.6,
  19.0, 19.55, 20.95, 21.05, 21.15, 24,
];
const dayQ = [
  0, 0, 0.017, 0.033, 0.04, 0.118, 0.138, 0.138, 0.268, 0.23, 0.18, 0.135, 0.037, 0.048, 0.066, 0.121, 0.162,
  0.191, 0.313, 0.305, 0.254, 0.265, 0.309, 0.298, 0.279, 0.303, 0.11, 0.232, 0.165, 0.22, 0.162, 0.213,
  0.147, 0, 0, 0.006, 0, 0,
];
const nightQTime = [
  0, 7.1, 7.55, 8.05, 8.55, 9.1, 9.6, 10.1, 10.55, 11.05, 11.35, 11.6, 12.05, 12.5, 13.05, 13.5, 14.05,
  14.6, 15.05, 15.4, 15.6, 16.1, 16.55, 17.05, 17.55, 18.05, 18.55, 19.1, 19.55, 20.05, 20.5, 21.0, 21.6, 24,
];
const nightQ = [
  0, 0, 0.03, 0.094, 0.128, 0.084, 0.196, 0.126, 0.078, 0.001, 0, 0.011, 0.1, 0.132, 0.237, 0.237, 0.202,
  0.25, 0.253, 0.257, 0.263, 0.091, 0.228, 0.16, 0.212, 0.129, 0.202, 0.135, 0.015, 0.046, 0.049, 0.075, 0, 0,
];
const depotQTime = [
  0, 7.0, 7.1, 7.2, 7.4, 7.55, 7.7, 7.85, 7.95, 8.1, 8.25, 8.4, 8.55, 8.6, 8.85, 9.1, 9.15, 9.35, 9.6,
  9.9, 10.2, 10.4, 10.65, 11.1, 11.45, 11.6, 11.9, 12.15, 12.45, 12.6, 12.8, 13.05, 13.3, 13.7, 14.05,
  14.3, 14.6, 14.85, 15.05, 15.3, 15.55, 16.05, 16.55, 17.05, 17.55, 18.05, 18.5, 19.0, 19.4, 24,
];
const depotQ = [
  0, 0, 0.065, 0.051, 0.067, 0.067, 0.084, 0.114, 0.106, 0.141, 0.136, 0.141, 0.18, 0.144, 0.13, 0.114, 0.098, 0.133, 0.196,
  0.163, 0.13, 0.1, 0.084, 0, 0, 0.004, 0.056, 0.125, 0.126, 0.133, 0.185, 0.235, 0.226, 0.224, 0.185,
  0.196, 0.232, 0.235, 0.229, 0.237, 0.243, 0.089, 0.199, 0.122, 0.163, 0.076, 0.141, 0.081, 0, 0,
];

const NODE_NAMES = ['Node 1.03', 'Node 2.03', 'Node 3.03', 'Node 4.05', 'Node 5.11', 'Node 6.11', 'Node 7.14', 'Node 8.25'];
const NODE_KEYS = ['n103', 'n203', 'n303', 'n405', 'n511', 'n611', 'n714', 'n825'];
const NODE_COLORS = ['#3a2d8f', '#ee4125', '#7ccfd0', '#f57f2a', '#f8e52a', '#1f9e49', '#8a8ecc', '#1e1e1e'];

const V_TICKS = [0.93, 0.94, 0.95, 0.96, 0.97, 0.98, 0.99];
const T_TICKS = [0, 5, 10, 15, 20];

const FONT = '"Liberation Serif", "Times New Roman", serif';
const GRID = '#e4e4e4';
const BAND = '#fcebe7';
const INK = '#111';

const PLOT_W = 445;
const YW = 60;
const MT = 10;
const MR = 12;
const VB = 14; // room under the voltage plots for the lowest tick label

function buildRows(series: number[][]) {
  return HOURS.map((t, i) => {
    const row: Record<string, number> = { t };
    series.forEach((s, k) => { row[NODE_KEYS[k]] = s[i]; });
    return row;
  });
}

const xTick = (pt: number, pb: number, labels: boolean) => (p: any) => {
  const x = p.x;
  const v = p.payload?.value;
  return (
    <g>
      {v > 0 && <line x1={x} x2={x} y1={pb} y2={pb - 7} stroke={INK} strokeWidth={1.6} />}
      {v > 0 && <line x1={x} x2={x} y1={pt} y2={pt + 7} stroke={INK} strokeWidth={1.6} />}
      {labels && (
        <text x={x} y={pb + 15} textAnchor="middle" dominantBaseline="central" fontFamily={FONT} fontSize={15} fill={INK}>
          {v}
        </text>
      )}
    </g>
  );
};

const yTick = (pl: number, pr: number, fmt: (v: number) => string) => (p: any) => {
  const y = p.y;
  const v = p.payload?.value;
  return (
    <g>
      <line x1={pl} x2={pl + 7} y1={y} y2={y} stroke={INK} strokeWidth={1.6} />
      <line x1={pr - 7} x2={pr} y1={y} y2={y} stroke={INK} strokeWidth={1.6} />
      <text x={pl - 4} y={y} textAnchor="end" dominantBaseline="central" fontFamily={FONT} fontSize={15} fill={INK}>
        {fmt(v)}
      </text>
    </g>
  );
};

const vTitle = (x: number, cy: number, text: string) => () => (
  <text transform={`translate(${x}, ${cy}) rotate(-90)`} textAnchor="middle" dominantBaseline="central"
    fontFamily={FONT} fontSize={15} fill={INK}>
    {text}
  </text>
);

function NodeLegend(props: any) {
  const items = props.payload ?? [];
  return (
    <div style={{
      width: 243, height: 78, boxSizing: 'border-box', border: '1.5px solid #5c5c5c', borderRadius: 3,
      background: '#fff', padding: '2px 0 0 5px', display: 'grid', gridTemplateColumns: '127px 110px',
      gridTemplateRows: 'repeat(4, 18.3px)', gridAutoFlow: 'column', fontFamily: FONT, fontSize: 14.5,
      color: '#4a4a4a', lineHeight: '18px',
    }}>
      {items.map((it: any) => (
        <div key={it.value} style={{ display: 'flex', alignItems: 'center', whiteSpace: 'nowrap' }}>
          <span style={{ display: 'inline-block', width: 32, height: 5, borderRadius: 3, background: it.color, marginRight: 10 }} />
          <span>{it.value}</span>
        </div>
      ))}
    </div>
  );
}

type VProps = { plotLeft: number; plotTop: number; plotH: number; series: number[][]; legend?: boolean; labelX: number };

function VoltagePanel({ plotLeft, plotTop, plotH, series, legend, labelX }: VProps) {
  const data = buildRows(series);
  const W = YW + PLOT_W + MR;
  const H = MT + plotH + VB;
  const pl = YW;
  const pr = YW + PLOT_W;
  const pt = MT;
  const pb = MT + plotH;
  const left = plotLeft - YW;
  return (
    <div style={{ position: 'absolute', left, top: plotTop - MT, width: W, height: H }}>
      <LineChart width={W} height={H} data={data} margin={{ top: MT, right: MR, bottom: 0, left: 0 }}>
        <CartesianGrid stroke={GRID} />
        <ReferenceArea x1={0} x2={24} y1={0.93} y2={0.95} fill={BAND} fillOpacity={1} stroke="none" />
        <XAxis dataKey="t" type="number" domain={[0, 24]} ticks={T_TICKS} interval={0} height={VB}
          axisLine={false} tickLine={false} tick={xTick(pt, pb, false)} />
        <YAxis type="number" domain={[0.93, 0.99]} ticks={V_TICKS} interval={0} width={YW} allowDataOverflow
          axisLine={false} tickLine={false} tick={yTick(pl, pr, (v) => v.toFixed(2))}
          label={vTitle(labelX - left, pt + plotH / 2, 'Bus voltage in p.u.')} />
        {legend && (
          <Legend content={NodeLegend} layout="horizontal" verticalAlign="middle" align="center"
            wrapperStyle={{ left: YW + 156, top: 73 - plotTop + MT, width: 243, height: 78 }} />
        )}
        {NODE_KEYS.map((k, i) => (
          <Line key={k} type="linear" dataKey={k} name={NODE_NAMES[i]} stroke={NODE_COLORS[i]} strokeWidth={1.8}
            dot={false} activeDot={false} isAnimationActive={false} />
        ))}
      </LineChart>
      <div style={{
        position: 'absolute', left: pl - 1, top: pt - 1, width: PLOT_W + 2, height: plotH + 2,
        border: `2px solid ${INK}`, boxSizing: 'border-box', pointerEvents: 'none',
      }} />
    </div>
  );
}

type QProps = { plotLeft: number; time: number[]; q: number[]; domain: [number, number]; ticks: number[]; labelX: number; textDy: number };

function ReactivePanel({ plotLeft, time, q, domain, ticks, labelX, textDy }: QProps) {
  const data = time.map((t, i) => ({ t, q: q[i] }));
  const plotTop = 674;
  const plotH = 182;
  const W = YW + PLOT_W + MR;
  const H = MT + plotH + 46;
  const pl = YW;
  const pr = YW + PLOT_W;
  const pt = MT;
  const pb = MT + plotH;
  const left = plotLeft - YW;
  return (
    <div style={{ position: 'absolute', left, top: plotTop - MT, width: W, height: H }}>
      <AreaChart width={W} height={H} data={data} margin={{ top: MT, right: MR, bottom: 0, left: 0 }}>
        <CartesianGrid stroke={GRID} />
        <XAxis dataKey="t" type="number" domain={[0, 24]} ticks={T_TICKS} interval={0} height={46}
          axisLine={false} tickLine={false} tick={xTick(pt, pb, true)}
          label={() => (
            <text x={pl + PLOT_W / 2} y={pb + 33} textAnchor="middle" dominantBaseline="central"
              fontFamily={FONT} fontSize={15} fill={INK}>Time in h</text>
          )} />
        <YAxis type="number" domain={domain} ticks={ticks} interval={0} width={YW} allowDataOverflow
          axisLine={false} tickLine={false} tick={yTick(pl, pr, (v) => String(v))}
          label={vTitle(labelX - left, pt + plotH / 2, 'FCS Reactive Power in p.u.')} />
        <Area type="linear" dataKey="q" baseValue={0} stroke="#3e4f5b" strokeWidth={2.6} fill="#c9dce7"
          fillOpacity={1} dot={false} activeDot={false} isAnimationActive={false} />
      </AreaChart>
      <div style={{
        position: 'absolute', left: pl - 1, top: pt - 1, width: PLOT_W + 2, height: plotH + 2,
        border: `2px solid ${INK}`, boxSizing: 'border-box', pointerEvents: 'none',
      }} />
      <div style={{
        position: 'absolute', left: pl + 32, top: pt + textDy - 11, fontFamily: FONT, fontSize: 16.5,
        letterSpacing: 1.2, color: '#6f8696', whiteSpace: 'nowrap', lineHeight: '22px',
      }}>
        Reactive Power
      </div>
    </div>
  );
}

function Title({ plotLeft, sub }: { plotLeft: number; sub: string }) {
  const base = { position: 'absolute' as const, left: plotLeft, width: PLOT_W, textAlign: 'center' as const, fontFamily: FONT, fontWeight: 700, fontSize: 25, letterSpacing: 1.2, lineHeight: '28px', whiteSpace: 'nowrap' as const };
  return (
    <>
      <div style={{ ...base, top: 4, color: '#4d4d4d' }}>Fast Charging Station</div>
      <div style={{ ...base, top: 32, color: '#1e9ad6' }}>{sub}</div>
    </>
  );
}

const COL_LEFT = [64, 572, 1082];

export default function App() {
  return (
    <div style={{ position: 'absolute', left: 0, top: 0, width: 1534, height: 897, background: '#fff', overflow: 'hidden' }}>
      <Title plotLeft={COL_LEFT[0]} sub="Day-Charging" />
      <Title plotLeft={COL_LEFT[1]} sub="Night-Charging" />
      <Title plotLeft={COL_LEFT[2]} sub="Depot Charging" />

      <VoltagePanel plotLeft={COL_LEFT[0]} plotTop={66} plotH={284} labelX={22} legend
        series={[dayTop103, dayTop203, dayTop303, dayTop405, dayTop511, dayTop611, dayTop714, dayTop825]} />
      <VoltagePanel plotLeft={COL_LEFT[1]} plotTop={66} plotH={284} labelX={530} legend
        series={[nightTop103, nightTop203, nightTop303, nightTop405, nightTop511, nightTop611, nightTop714, nightTop825]} />
      <VoltagePanel plotLeft={COL_LEFT[2]} plotTop={66} plotH={284} labelX={1036} legend
        series={[depotTop103, depotTop203, depotTop303, depotTop405, depotTop511, depotTop611, depotTop714, depotTop825]} />

      <VoltagePanel plotLeft={COL_LEFT[0]} plotTop={373} plotH={283} labelX={22}
        series={[dayBot103, dayBot203, dayBot303, dayBot405, dayBot511, dayBot611, dayBot714, dayBot825]} />
      <VoltagePanel plotLeft={COL_LEFT[1]} plotTop={373} plotH={283} labelX={530}
        series={[nightBot103, nightBot203, nightBot303, nightBot405, nightBot511, nightBot611, nightBot714, nightBot825]} />
      <VoltagePanel plotLeft={COL_LEFT[2]} plotTop={373} plotH={283} labelX={1036}
        series={[depotBot103, depotBot203, depotBot303, depotBot405, depotBot511, depotBot611, depotBot714, depotBot825]} />

      <ReactivePanel plotLeft={COL_LEFT[0]} time={dayQTime} q={dayQ} domain={[-0.05, 0.35]} ticks={[0, 0.1, 0.2, 0.3]} labelX={31} textDy={40} />
      <ReactivePanel plotLeft={COL_LEFT[1]} time={nightQTime} q={nightQ} domain={[-0.05, 0.3]} ticks={[0, 0.1, 0.2, 0.3]} labelX={528} textDy={36} />
      <ReactivePanel plotLeft={COL_LEFT[2]} time={depotQTime} q={depotQ} domain={[-0.05, 0.25]} ticks={[0, 0.1, 0.2, 0.25]} labelX={1035} textDy={18} />

      <svg width={120} height={897} style={{ position: 'absolute', left: 0, top: 0, pointerEvents: 'none' }}>
        <line x1={0} x2={87} y1={330} y2={330} stroke="#c40000" strokeWidth={3} />
        <circle cx={87} cy={330} r={7.5} fill="#c40000" />
        <line x1={0} x2={87} y1={632} y2={632} stroke="#c40000" strokeWidth={3} />
        <circle cx={87} cy={632} r={7.5} fill="#c40000" />
      </svg>
    </div>
  );
}
